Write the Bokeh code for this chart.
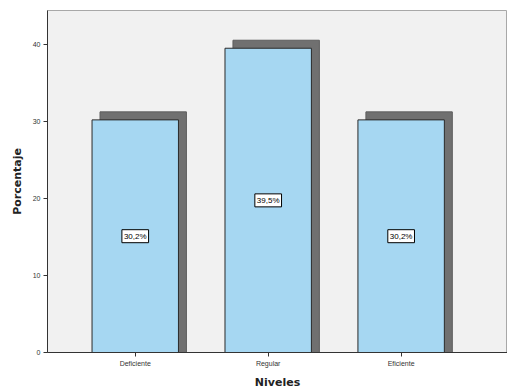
from bokeh.plotting import figure
from bokeh.models import ColumnDataSource, Range1d, FixedTicker
from bokeh.core.properties import value
from bokeh.transform import dodge
from bokeh.embed import file_html
from bokeh.resources import INLINE

categories = ["Deficiente", "Regular", "Eficiente"]
values = [30.2, 39.5, 30.2]
labels = ["30,2%", "39,5%", "30,2%"]
y_ticks = [0, 10, 20, 30, 40]

xs = list(range(len(categories)))
src = ColumnDataSource(dict(x=xs, val=values, half=[v / 2 for v in values], lab=labels))

p = figure(width=507, height=391, output_backend="svg", toolbar_location=None,
           x_range=Range1d(-0.66, 2.8), y_range=Range1d(0, 44.4),
           min_border_left=47, min_border_right=0, min_border_top=10, min_border_bottom=39)

p.background_fill_color = "#f1f1f1"
p.border_fill_color = "white"
p.outline_line_color = "#a8a8a8"
p.grid.visible = False

# drop shadows
p.vbar(x=dodge("x", 0.06), top=dodge("val", 1.04), width=0.65, source=src,
       fill_color="#707070", line_color="#5e5e5e", line_width=1)
# bars
p.vbar(x="x", top="val", width=0.65, source=src,
       fill_color="#a6d7f2", line_color="#2a2a2a", line_width=1)

p.text(x="x", y="half", text="lab", source=src, text_align="center",
       text_baseline="middle", text_font_size="8px", text_color="black",
       text_font=value("Liberation Sans"), padding=2,
       background_fill_color="white", border_line_color="black",
       border_line_width=1)

p.xaxis.ticker = FixedTicker(ticks=xs)
p.xaxis.major_label_overrides = {i: c for i, c in zip(xs, categories)}
p.yaxis.ticker = FixedTicker(ticks=y_ticks)
p.xaxis.axis_label = "Niveles"
p.yaxis.axis_label = "Porcentaje"
for ax in (p.xaxis[0], p.yaxis[0]):
    ax.axis_label_text_font = "DejaVu Sans"
    ax.axis_label_text_font_style = "bold"
    ax.axis_label_text_font_size = "11px"
    ax.axis_label_text_color = "#222222"
    ax.major_label_text_font = "Liberation Sans"
    ax.major_label_text_font_size = "7px"
    ax.major_label_text_color = "#333333"
    ax.axis_line_color = "#333333"
    ax.major_tick_line_color = "#333333"
    ax.major_tick_out = 4
    ax.major_tick_in = 0
    ax.minor_tick_line_color = None
    ax.axis_label_standoff = 6
    ax.major_label_standoff = 3

out = file_html(p, INLINE)
open("out.html", "w").write(out)
